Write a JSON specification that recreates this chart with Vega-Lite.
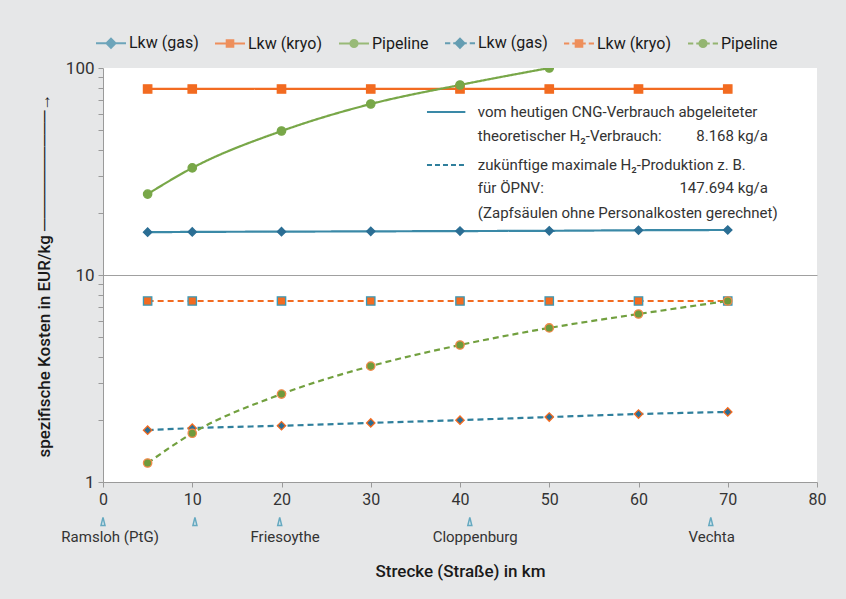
{
  "$schema": "https://vega.github.io/schema/vega-lite/v6.json",
  "width": 714,
  "height": 414,
  "autosize": {"type": "none"},
  "padding": {"left": 103, "top": 68, "right": 29, "bottom": 117},
  "background": "#e6e7e8",
  "view": {"fill": "white", "stroke": null},
  "config": {
    "font": "Roboto",
    "axis": {"labelFont": "Roboto", "titleFont": "Roboto", "labelColor": "#333333", "titleColor": "#1a1a1a", "domainColor": "#9a9a9a", "tickColor": "#9a9a9a"},
    "legend": {"labelFont": "Roboto"}
  },
  "datasets": {
    "series": [
      {"series": "Lkw (gas)|a", "d": 5, "v": 16.1},
      {"series": "Lkw (gas)|a", "d": 10, "v": 16.15},
      {"series": "Lkw (gas)|a", "d": 20, "v": 16.2},
      {"series": "Lkw (gas)|a", "d": 30, "v": 16.25},
      {"series": "Lkw (gas)|a", "d": 40, "v": 16.3},
      {"series": "Lkw (gas)|a", "d": 50, "v": 16.35},
      {"series": "Lkw (gas)|a", "d": 60, "v": 16.45},
      {"series": "Lkw (gas)|a", "d": 70, "v": 16.5},
      {"series": "Lkw (kryo)|a", "d": 5, "v": 79.2},
      {"series": "Lkw (kryo)|a", "d": 10, "v": 79.2},
      {"series": "Lkw (kryo)|a", "d": 20, "v": 79.2},
      {"series": "Lkw (kryo)|a", "d": 30, "v": 79.2},
      {"series": "Lkw (kryo)|a", "d": 40, "v": 79.2},
      {"series": "Lkw (kryo)|a", "d": 50, "v": 79.2},
      {"series": "Lkw (kryo)|a", "d": 60, "v": 79.2},
      {"series": "Lkw (kryo)|a", "d": 70, "v": 79.2},
      {"series": "Pipeline|a", "d": 5, "v": 24.6},
      {"series": "Pipeline|a", "d": 10, "v": 32.9},
      {"series": "Pipeline|a", "d": 20, "v": 49.6},
      {"series": "Pipeline|a", "d": 30, "v": 67.0},
      {"series": "Pipeline|a", "d": 40, "v": 82.8},
      {"series": "Pipeline|a", "d": 50, "v": 100},
      {"series": "Lkw (gas)|b", "d": 5, "v": 1.78},
      {"series": "Lkw (gas)|b", "d": 10, "v": 1.82},
      {"series": "Lkw (gas)|b", "d": 20, "v": 1.87},
      {"series": "Lkw (gas)|b", "d": 30, "v": 1.93},
      {"series": "Lkw (gas)|b", "d": 40, "v": 1.99},
      {"series": "Lkw (gas)|b", "d": 50, "v": 2.06},
      {"series": "Lkw (gas)|b", "d": 60, "v": 2.13},
      {"series": "Lkw (gas)|b", "d": 70, "v": 2.18},
      {"series": "Lkw (kryo)|b", "d": 5, "v": 7.49},
      {"series": "Lkw (kryo)|b", "d": 10, "v": 7.49},
      {"series": "Lkw (kryo)|b", "d": 20, "v": 7.49},
      {"series": "Lkw (kryo)|b", "d": 30, "v": 7.49},
      {"series": "Lkw (kryo)|b", "d": 40, "v": 7.49},
      {"series": "Lkw (kryo)|b", "d": 50, "v": 7.49},
      {"series": "Lkw (kryo)|b", "d": 60, "v": 7.49},
      {"series": "Lkw (kryo)|b", "d": 70, "v": 7.49},
      {"series": "Pipeline|b", "d": 5, "v": 1.235},
      {"series": "Pipeline|b", "d": 10, "v": 1.72},
      {"series": "Pipeline|b", "d": 20, "v": 2.66},
      {"series": "Pipeline|b", "d": 30, "v": 3.63},
      {"series": "Pipeline|b", "d": 40, "v": 4.59},
      {"series": "Pipeline|b", "d": 50, "v": 5.55},
      {"series": "Pipeline|b", "d": 60, "v": 6.48},
      {"series": "Pipeline|b", "d": 70, "v": 7.49}
    ],
    "legendkeys": [
      {"series": "Lkw (gas)|a", "d": -50, "v": 10},
      {"series": "Lkw (kryo)|a", "d": -50, "v": 10},
      {"series": "Pipeline|a", "d": -50, "v": 10},
      {"series": "Lkw (gas)|b", "d": -50, "v": 10},
      {"series": "Lkw (kryo)|b", "d": -50, "v": 10},
      {"series": "Pipeline|b", "d": -50, "v": 10}
    ],
    "samples_solid": [{"x1": 36.3, "x2": 40.6, "y": 61.3}],
    "samples_dashed": [{"x1": 36.3, "x2": 40.6, "y": 34.0}],
    "notes_left": [
      {"t": "vom heutigen CNG-Verbrauch abgeleiteter", "x": 42.0, "y": 61.3},
      {"t": "theoretischer H₂-Verbrauch:", "x": 42.0, "y": 46.9},
      {"t": "zukünftige maximale H₂-Produktion z. B.", "x": 42.0, "y": 34.0},
      {"t": "für ÖPNV:", "x": 42.0, "y": 26.3},
      {"t": "(Zapfsäulen ohne Personalkosten gerechnet)", "x": 42.0, "y": 19.9}
    ],
    "notes_right": [
      {"t": "8.168 kg/a", "x": 74.5, "y": 46.9},
      {"t": "147.694 kg/a", "x": 74.5, "y": 26.3}
    ],
    "town_marks": [
      {"x": 0, "y": 0.645},
      {"x": 10.3, "y": 0.645},
      {"x": 19.8, "y": 0.645},
      {"x": 41.1, "y": 0.645},
      {"x": 68.1, "y": 0.645}
    ],
    "towns": [
      {"t": "Ramsloh (PtG)", "x": 0.8, "y": 0.542},
      {"t": "Friesoythe", "x": 20.4, "y": 0.542},
      {"t": "Cloppenburg", "x": 41.7, "y": 0.542},
      {"t": "Vechta", "x": 68.2, "y": 0.542}
    ]
  },
  "resolve": {"scale": {"color": "independent", "shape": "independent", "stroke": "independent"}, "legend": {"color": "independent", "shape": "independent", "stroke": "independent"}},
  "layer": [
    {
      "data": {"name": "series"},
      "mark": {"type": "line", "interpolate": "monotone", "strokeWidth": 2.2, "clip": true},
      "encoding": {
        "x": {"field": "d", "type": "quantitative", "scale": {"domain": [0, 80]},
          "axis": {"values": [0, 10, 20, 30, 40, 50, 60, 70, 80], "title": "Strecke (Straße) in km", "titleFontSize": 17, "titleFontWeight": 500, "titlePadding": 56, "labelFontSize": 16, "tickSize": 5, "labelPadding": 4, "grid": false, "labelFlush": false}},
        "y": {"field": "v", "type": "quantitative", "scale": {"type": "log", "domain": [1, 100]},
          "axis": {"values": [1, 2, 3, 4, 5, 6, 7, 8, 9, 10, 20, 30, 40, 50, 60, 70, 80, 90, 100], "format": "d", "labelExpr": "(datum.value == 1 || datum.value == 10 || datum.value == 100) ? datum.label : ''", "title": "spezifische Kosten in EUR/kg ──────────→", "titleFontSize": 17, "titleFontWeight": 500, "titlePadding": 12, "labelFontSize": 17, "tickSize": 5, "labelPadding": 4, "grid": true, "gridColor": "#a0a0a0", "gridWidth": 1, "gridOpacity": {"condition": {"test": "datum.value == 10", "value": 1}, "value": 0}}},
        "color": {"field": "series", "type": "nominal", "legend": null,
          "scale": {"domain": ["Lkw (gas)|a", "Lkw (kryo)|a", "Pipeline|a", "Lkw (gas)|b", "Lkw (kryo)|b", "Pipeline|b"], "range": ["#3a89a7", "#f26b21", "#78a748", "#2f7f9c", "#f26b21", "#72a03f"]}},
        "strokeDash": {"field": "series", "type": "nominal", "legend": null,
          "scale": {"domain": ["Lkw (gas)|a", "Lkw (kryo)|a", "Pipeline|a", "Lkw (gas)|b", "Lkw (kryo)|b", "Pipeline|b"], "range": [[1, 0], [1, 0], [1, 0], [6, 4], [6, 4], [6, 4]]}}
      }
    },
    {
      "data": {"name": "series"},
      "mark": {"type": "point", "filled": true, "size": 70, "strokeWidth": 1.3, "opacity": 1, "clip": true},
      "encoding": {
        "x": {"field": "d", "type": "quantitative"},
        "y": {"field": "v", "type": "quantitative"},
        "color": {"field": "series", "type": "nominal", "legend": null,
          "scale": {"domain": ["Lkw (gas)|a", "Lkw (kryo)|a", "Pipeline|a", "Lkw (gas)|b", "Lkw (kryo)|b", "Pipeline|b"], "range": ["#2b6e94", "#f26b21", "#78a748", "#2b6e94", "#f26b21", "#6f9a3c"]}},
        "stroke": {"field": "series", "type": "nominal", "legend": null,
          "scale": {"domain": ["Lkw (gas)|a", "Lkw (kryo)|a", "Pipeline|a", "Lkw (gas)|b", "Lkw (kryo)|b", "Pipeline|b"], "range": ["#2b6e94", "#f26b21", "#78a748", "#f26b21", "#3a9ab8", "#f08a4a"]}},
        "shape": {"field": "series", "type": "nominal", "legend": null,
          "scale": {"domain": ["Lkw (gas)|a", "Lkw (kryo)|a", "Pipeline|a", "Lkw (gas)|b", "Lkw (kryo)|b", "Pipeline|b"], "range": ["diamond", "square", "circle", "diamond", "square", "circle"]}}
      }
    },
    {
      "data": {"name": "legendkeys"},
      "mark": {"type": "point", "filled": true, "size": 900, "strokeWidth": 2, "clip": true},
      "encoding": {
        "x": {"field": "d", "type": "quantitative"},
        "y": {"field": "v", "type": "quantitative"},
        "color": {"field": "series", "type": "nominal",
          "scale": {"domain": ["Lkw (gas)|a", "Lkw (kryo)|a", "Pipeline|a", "Lkw (gas)|b", "Lkw (kryo)|b", "Pipeline|b"], "range": ["#3a89a7", "#f26b21", "#78a748", "#2f7f9c", "#f26b21", "#72a03f"]},
          "legend": {"orient": "none", "legendX": -8, "legendY": -41, "direction": "horizontal", "columns": 6, "title": null, "labelExpr": "split(datum.label, '|')[0]", "labelFontSize": 16, "labelColor": "#1a1a1a", "symbolSize": 900, "symbolStrokeWidth": 2, "columnPadding": 12, "labelOffset": 2}},
        "stroke": {"field": "series", "type": "nominal",
          "scale": {"domain": ["Lkw (gas)|a", "Lkw (kryo)|a", "Pipeline|a", "Lkw (gas)|b", "Lkw (kryo)|b", "Pipeline|b"], "range": ["#3a89a7", "#f26b21", "#78a748", "#2f7f9c", "#f26b21", "#72a03f"]},
          "legend": {"orient": "none", "legendX": -8, "legendY": -41, "direction": "horizontal", "columns": 6, "title": null, "labelExpr": "split(datum.label, '|')[0]", "labelFontSize": 16, "labelColor": "#1a1a1a", "symbolSize": 900, "symbolStrokeWidth": 2, "columnPadding": 12, "labelOffset": 2}},
        "shape": {"field": "series", "type": "nominal",
          "scale": {"domain": ["Lkw (gas)|a", "Lkw (kryo)|a", "Pipeline|a", "Lkw (gas)|b", "Lkw (kryo)|b", "Pipeline|b"],
            "range": [
              "M-1,0H1M0,-0.3L0.3,0L0,0.3L-0.3,0Z",
              "M-1,0H1M-0.22,-0.22H0.22V0.22H-0.22Z",
              "M-1,0H1M0.24,0A0.24,0.24,0,1,1,-0.24,0A0.24,0.24,0,1,1,0.24,0Z",
              "M-1,0H-0.65M-0.45,0H-0.25M0.25,0H0.45M0.65,0H1M0,-0.3L0.3,0L0,0.3L-0.3,0Z",
              "M-1,0H-0.65M-0.45,0H-0.25M0.25,0H0.45M0.65,0H1M-0.22,-0.22H0.22V0.22H-0.22Z",
              "M-1,0H-0.65M-0.45,0H-0.25M0.25,0H0.45M0.65,0H1M0.24,0A0.24,0.24,0,1,1,-0.24,0A0.24,0.24,0,1,1,0.24,0Z"
            ]},
          "legend": {"orient": "none", "legendX": -8, "legendY": -41, "direction": "horizontal", "columns": 6, "title": null, "labelExpr": "split(datum.label, '|')[0]", "labelFontSize": 16, "labelColor": "#1a1a1a", "symbolSize": 900, "symbolStrokeWidth": 2, "columnPadding": 12, "labelOffset": 2}}
      }
    },
    {
      "data": {"name": "samples_solid"},
      "mark": {"type": "rule", "color": "#3a89a7", "strokeWidth": 2},
      "encoding": {"x": {"field": "x1", "type": "quantitative"}, "x2": {"field": "x2"}, "y": {"field": "y", "type": "quantitative"}}
    },
    {
      "data": {"name": "samples_dashed"},
      "mark": {"type": "rule", "color": "#2f7f9c", "strokeWidth": 2, "strokeDash": [5, 3]},
      "encoding": {"x": {"field": "x1", "type": "quantitative"}, "x2": {"field": "x2"}, "y": {"field": "y", "type": "quantitative"}}
    },
    {
      "data": {"name": "notes_left"},
      "mark": {"type": "text", "align": "left", "baseline": "middle", "fontSize": 15, "color": "#333333", "font": "Roboto"},
      "encoding": {"x": {"field": "x", "type": "quantitative"}, "y": {"field": "y", "type": "quantitative"}, "text": {"field": "t"}}
    },
    {
      "data": {"name": "notes_right"},
      "mark": {"type": "text", "align": "right", "baseline": "middle", "fontSize": 15, "color": "#333333", "font": "Roboto"},
      "encoding": {"x": {"field": "x", "type": "quantitative"}, "y": {"field": "y", "type": "quantitative"}, "text": {"field": "t"}}
    },
    {
      "data": {"name": "town_marks"},
      "mark": {"type": "point", "shape": "M0,-1L0.5,1L-0.5,1Z", "size": 64, "filled": true, "fill": "#cfe6ee", "stroke": "#2f8fb0", "strokeWidth": 1.5, "clip": false},
      "encoding": {"x": {"field": "x", "type": "quantitative"}, "y": {"field": "y", "type": "quantitative"}}
    },
    {
      "data": {"name": "towns"},
      "mark": {"type": "text", "align": "center", "baseline": "middle", "fontSize": 15, "color": "#333333", "font": "Roboto", "clip": false},
      "encoding": {"x": {"field": "x", "type": "quantitative"}, "y": {"field": "y", "type": "quantitative"}, "text": {"field": "t"}}
    }
  ]
}
